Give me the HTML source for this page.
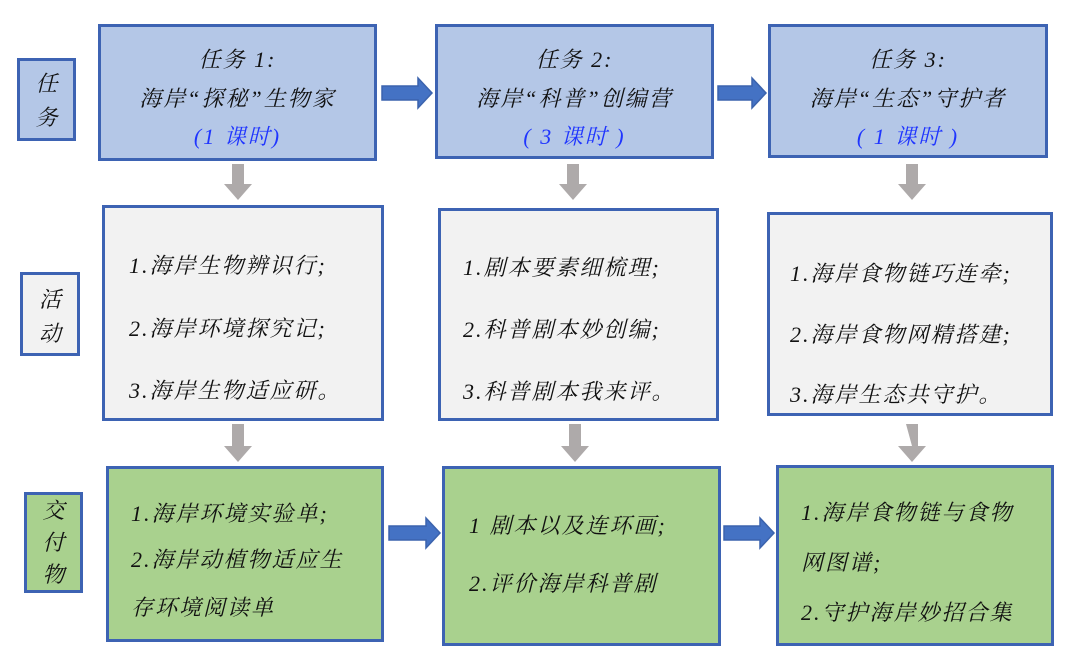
<!DOCTYPE html>
<html><head><meta charset="utf-8"><style>
body{margin:0;width:1080px;height:664px;background:#fff;position:relative;overflow:hidden;
font-family:"Liberation Serif","Noto Serif CJK SC",serif;font-style:italic;color:#111;}
.b{position:absolute;box-sizing:border-box;border:3px solid #3d63b3;}
.bl{background:#b4c7e7}.gr{background:#f2f2f2}.gn{background:#a9d18e}
.t{position:absolute;font-size:22px;white-space:nowrap;letter-spacing:2px}
.c{text-align:center;left:0;right:0}
.v{font-size:22px;line-height:34px;text-align:center;position:absolute;left:0;right:0}
.blue{color:#1f35ff}
svg{position:absolute;left:0;top:0}
</style></head><body>
<svg width="1080" height="664">
<g fill="#4472c4" stroke="#3b63ad" stroke-width="1.5">
<polygon points="382,86 418,86 418,78 432,93 418,108 418,100 382,100"/>
<polygon points="718,86 752,86 752,78 766,93 752,108 752,100 718,100"/>
<polygon points="389,526 426,526 426,518 440,533 426,548 426,540 389,540"/>
<polygon points="724,526 760,526 760,518 774,533 760,548 760,540 724,540"/>
</g>
<g fill="#aeaaaa">
<polygon points="232,164 244,164 244,184 252,184 238,200 224,184 232,184"/>
<polygon points="567,164 579,164 579,184 587,184 573,200 559,184 567,184"/>
<polygon points="906,164 918,164 918,184 926,184 912,200 898,184 906,184"/>
<polygon points="232,424 244,424 244,446 252,446 238,462 224,446 232,446"/>
<polygon points="569,424 581,424 581,446 589,446 575,462 561,446 569,446"/>
<polygon points="906,424 918,424 918,446 926,446 912,462 898,446 912,446"/>
</g>
</svg>
<div class="b bl" style="left:17px;top:58px;width:59px;height:83px"><div class="v" style="top:6px">任<br>务</div></div>
<div class="b gr" style="left:20px;top:272px;width:60px;height:84px"><div class="v" style="top:8px">活<br>动</div></div>
<div class="b gn" style="left:24px;top:492px;width:59px;height:101px"><div class="v" style="top:0px;line-height:32px">交<br>付<br>物</div></div>

<div class="b bl" style="left:98px;top:24px;width:279px;height:137px">
<div class="t c" style="top:16px">任务 1:</div>
<div class="t c" style="top:55px">海岸“探秘”生物家</div>
<div class="t c blue" style="top:93px">(1 课时)</div></div>
<div class="b bl" style="left:435px;top:24px;width:279px;height:135px">
<div class="t c" style="top:16px">任务 2:</div>
<div class="t c" style="top:55px">海岸“科普”创编营</div>
<div class="t c blue" style="top:93px">( 3 课时 )</div></div>
<div class="b bl" style="left:768px;top:24px;width:280px;height:134px">
<div class="t c" style="top:16px">任务 3:</div>
<div class="t c" style="top:55px">海岸“生态”守护者</div>
<div class="t c blue" style="top:93px">( 1 课时 )</div></div>

<div class="b gr" style="left:102px;top:205px;width:282px;height:216px">
<div class="t" style="left:24px;top:41px">1.海岸生物辨识行;</div>
<div class="t" style="left:24px;top:104px">2.海岸环境探究记;</div>
<div class="t" style="left:24px;top:166px">3.海岸生物适应研。</div></div>
<div class="b gr" style="left:438px;top:208px;width:281px;height:213px">
<div class="t" style="left:22px;top:40px">1.剧本要素细梳理;</div>
<div class="t" style="left:22px;top:102px">2.科普剧本妙创编;</div>
<div class="t" style="left:22px;top:164px">3.科普剧本我来评。</div></div>
<div class="b gr" style="left:767px;top:212px;width:286px;height:204px">
<div class="t" style="left:20px;top:42px">1.海岸食物链巧连牵;</div>
<div class="t" style="left:20px;top:103px">2.海岸食物网精搭建;</div>
<div class="t" style="left:20px;top:163px">3.海岸生态共守护。</div></div>

<div class="b gn" style="left:106px;top:466px;width:278px;height:176px">
<div class="t" style="left:22px;top:28px">1.海岸环境实验单;</div>
<div class="t" style="left:22px;top:74px">2.海岸动植物适应生</div>
<div class="t" style="left:22px;top:122px">存环境阅读单</div></div>
<div class="b gn" style="left:442px;top:466px;width:279px;height:180px">
<div class="t" style="left:24px;top:40px">1 剧本以及连环画;</div>
<div class="t" style="left:24px;top:98px">2.评价海岸科普剧</div></div>
<div class="b gn" style="left:776px;top:465px;width:278px;height:181px">
<div class="t" style="left:22px;top:28px">1.海岸食物链与食物</div>
<div class="t" style="left:22px;top:78px">网图谱;</div>
<div class="t" style="left:22px;top:128px">2.守护海岸妙招合集</div></div>
</body></html>
